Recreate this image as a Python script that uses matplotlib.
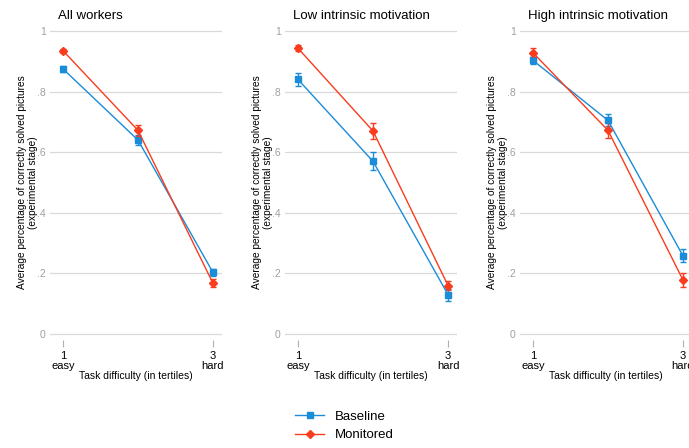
# grafico a tre pannelli: quota di immagini risolte per difficoltà del compito
import matplotlib.pyplot as plt
from matplotlib.lines import Line2D

plt.rcParams["font.family"] = ["Liberation Sans", "DejaVu Sans"]

# dati
difficolta = [1, 2, 3]
titoli = ["All workers", "Low intrinsic motivation", "High intrinsic motivation"]

baseline = [
    [0.875, 0.640, 0.203],
    [0.840, 0.570, 0.130],
    [0.903, 0.705, 0.258],
]
baseline_err = [
    [0.010, 0.016, 0.013],
    [0.022, 0.030, 0.020],
    [0.012, 0.020, 0.022],
]
monitored = [
    [0.935, 0.672, 0.167],
    [0.943, 0.670, 0.160],
    [0.928, 0.672, 0.178],
]
monitored_err = [
    [0.006, 0.018, 0.013],
    [0.010, 0.025, 0.015],
    [0.015, 0.025, 0.022],
]

blu = "#1a8cd8"
rosso = "#fa3c1e"
grigio = "#b0b0b0"

fig = plt.figure(figsize=(6.89, 4.48), dpi=100)

# posizioni dei pannelli in pixel (sinistra, larghezza)
W, H = 689, 448
sinistre = [50, 285, 520]
larghezza = 172
alto, basso = 25, 340

for k in range(3):
    ax = fig.add_axes([sinistre[k] / W, 1 - basso / H, larghezza / W, (basso - alto) / H])

    ax.errorbar(difficolta, baseline[k], yerr=baseline_err[k], color=blu, marker="s",
                markersize=5, lw=1, elinewidth=1, capsize=2, zorder=3)
    ax.errorbar(difficolta, monitored[k], yerr=monitored_err[k], color=rosso, marker="D",
                markersize=4.5, lw=1, elinewidth=1, capsize=2, zorder=3)

    ax.set_xlim(1 - 13 / 75, 3 + 9 / 75)
    ax.set_ylim(-6 / 303, 1 + 6 / 303)

    ax.set_yticks([0, 0.2, 0.4, 0.6, 0.8, 1])
    ax.set_yticklabels(["0", ".2", ".4", ".6", ".8", "1"])
    ax.set_xticks([1, 3])
    ax.set_xticklabels(["1\neasy", "3\nhard"], fontsize=8, linespacing=0.95)
    ax.grid(axis="y", color="#d9d9d9", lw=0.9)
    ax.set_axisbelow(True)

    for lato in ax.spines.values():
        lato.set_visible(False)
    ax.tick_params(axis="y", length=0, labelsize=7.5, labelcolor="#a0a0a0", pad=3)
    ax.tick_params(axis="x", length=5, color=grigio, labelsize=8, pad=3)

    ax.set_xlabel("Task difficulty (in tertiles)", fontsize=7.5, labelpad=0)
    ax.set_ylabel("Average percentage of correctly solved pictures\n(experimental stage)",
                  fontsize=7.3, labelpad=-1, linespacing=1.15)
    ax.set_title(titoli[k], fontsize=9.5, loc="left", x=8 / larghezza, pad=4)

# legenda in basso al centro
maniglie = [
    Line2D([], [], color=blu, marker="s", markersize=5, lw=1),
    Line2D([], [], color=rosso, marker="D", markersize=4.5, lw=1),
]
fig.legend(maniglie, ["Baseline", "Monitored"], loc="center", bbox_to_anchor=(0.5, 1 - 426 / H),
           frameon=False, fontsize=9.5, handlelength=2.2, labelspacing=0.45)

plt.savefig("out.png", dpi=100)
